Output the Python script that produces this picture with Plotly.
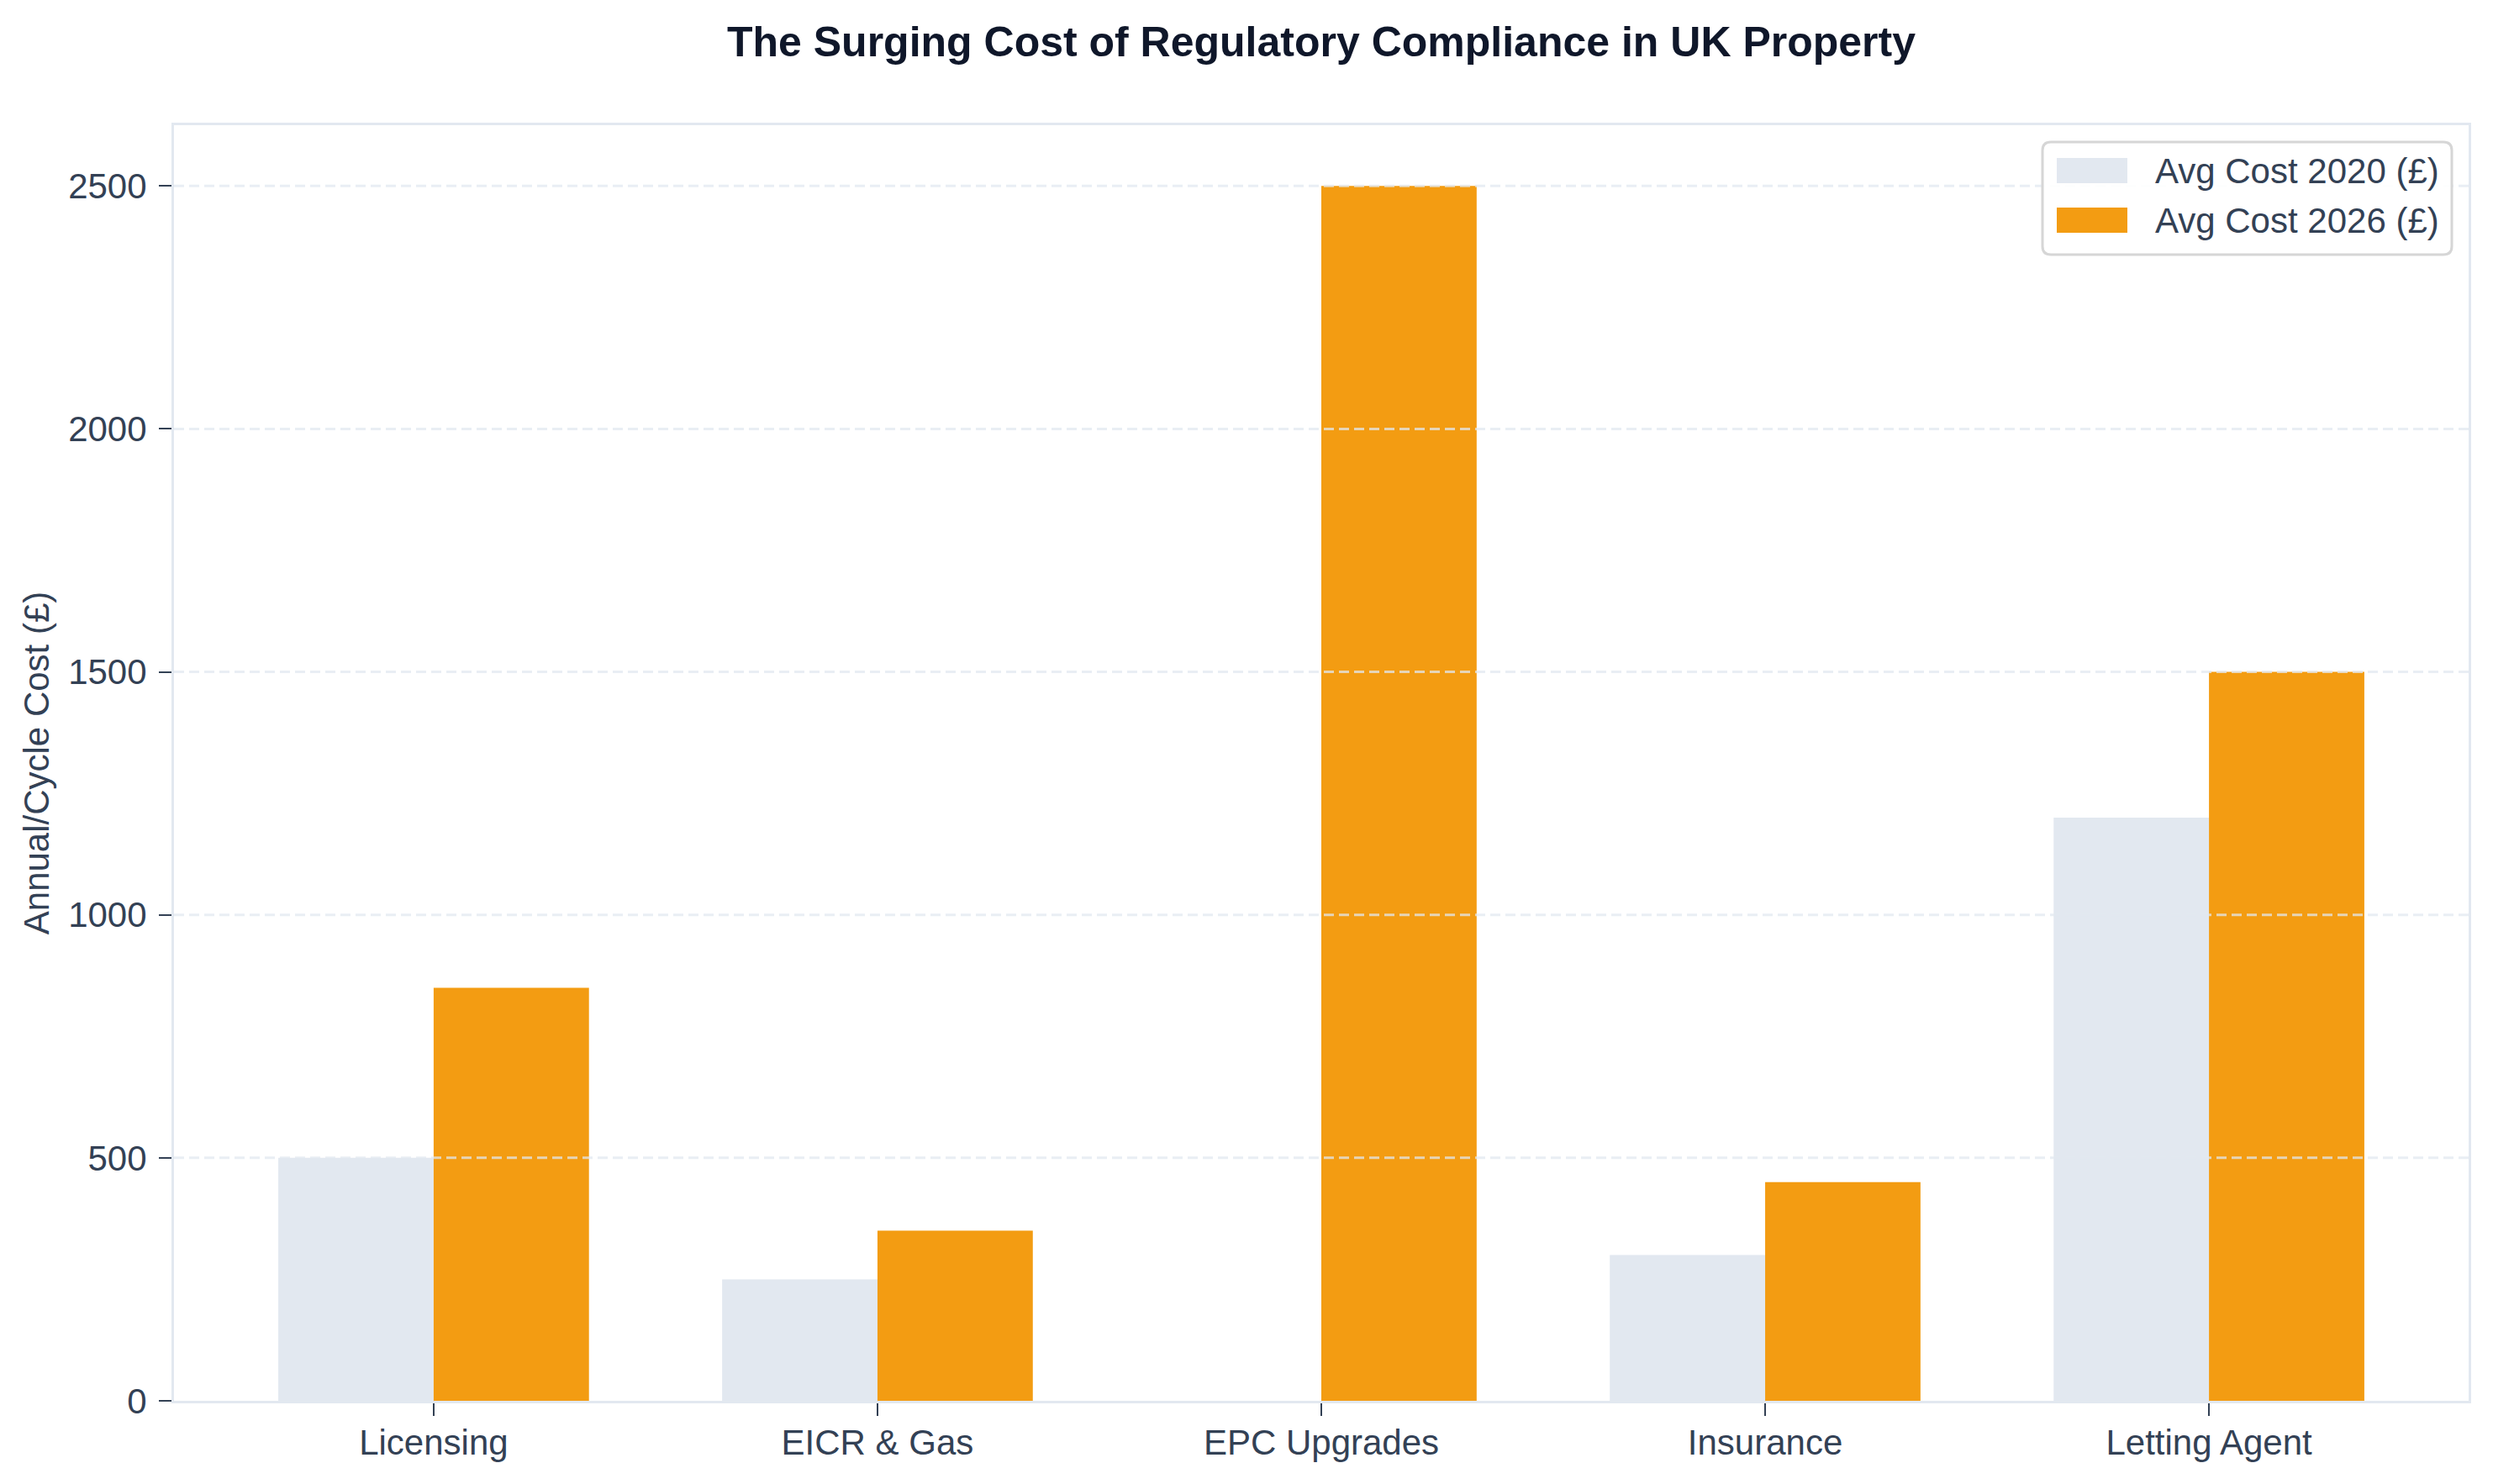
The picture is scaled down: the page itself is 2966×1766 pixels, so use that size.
import plotly.graph_objects as go

categories = ["Licensing", "EICR & Gas", "EPC Upgrades", "Insurance", "Letting Agent"]
cost_2020 = [500, 250, 0, 300, 1200]
cost_2026 = [850, 350, 2500, 450, 1500]
y_ticks = [0, 500, 1000, 1500, 2000, 2500]
series_names = ["Avg Cost 2020 (£)", "Avg Cost 2026 (£)"]
series_colors = ["#e2e8f0", "#f39c12"]

W, H = 2966, 1766
L, R, T, B = 207, 29, 149, 99
PW, PH = W - L - R, H - T - B
FONT = "Liberation Sans, Arial, sans-serif"
TXT = "#334155"


def px(x):
    return (x - L) / PW


def py(y):
    return 1 - (y - T) / PH


fig = go.Figure()
for vals, name, col in zip([cost_2020, cost_2026], series_names, series_colors):
    fig.add_trace(go.Bar(x=categories, y=vals, name=name, showlegend=False,
                         marker=dict(color=col, line=dict(width=0))))

# dashed gridlines drawn above bars (as in reference)
for v in y_ticks[1:]:
    fig.add_shape(type="line", xref="paper", yref="y", x0=0, x1=1, y0=v, y1=v,
                  line=dict(color="rgba(226,232,240,0.75)", width=3, dash="12px,6px"),
                  layer="above")

# legend box (rounded) built to mirror matplotlib legend
bx0, bx1, by0, by1, rad = 2430, 2917, 169, 303, 10
path = (f"M {px(bx0 + rad)},{py(by0)} L {px(bx1 - rad)},{py(by0)} "
        f"Q {px(bx1)},{py(by0)} {px(bx1)},{py(by0 + rad)} "
        f"L {px(bx1)},{py(by1 - rad)} Q {px(bx1)},{py(by1)} {px(bx1 - rad)},{py(by1)} "
        f"L {px(bx0 + rad)},{py(by1)} Q {px(bx0)},{py(by1)} {px(bx0)},{py(by1 - rad)} "
        f"L {px(bx0)},{py(by0 + rad)} Q {px(bx0)},{py(by0)} {px(bx0 + rad)},{py(by0)} Z")
fig.add_shape(type="path", xref="paper", yref="paper", path=path,
              fillcolor="rgba(255,255,255,0.9)", line=dict(color="#d6d6d6", width=3),
              layer="above")
row_centers = [203, 262]
for name, col, yc in zip(series_names, series_colors, row_centers):
    fig.add_shape(type="rect", xref="paper", yref="paper",
                  x0=px(2447), x1=px(2531), y0=py(yc - 15), y1=py(yc + 15),
                  fillcolor=col, line=dict(width=0), layer="above")
    fig.add_annotation(xref="paper", yref="paper", x=px(2562), y=py(yc),
                       xanchor="left", yanchor="middle", showarrow=False,
                       text=name, font=dict(family=FONT, size=42, color=TXT))

fig.update_layout(
    width=W, height=H,
    margin=dict(l=L, r=R, t=T, b=B, autoexpand=False),
    paper_bgcolor="white", plot_bgcolor="white",
    barmode="group", bargap=0.3, bargroupgap=0,
    showlegend=False,
    font=dict(family=FONT, size=42, color=TXT),
    title=dict(text="<b>The Surging Cost of Regulatory Compliance in UK Property</b>",
               x=0.5, xref="paper", xanchor="center",
               y=1 - 49 / H, yref="container", yanchor="middle",
               font=dict(family=FONT, size=50, color="#0f172a")),
    xaxis=dict(range=[-0.585, 4.585], showgrid=False, zeroline=False,
               showline=True, linecolor="#e2e8f0", linewidth=3, mirror=True,
               ticks="outside", ticklen=15, tickwidth=2, tickcolor=TXT,
               ticklabelstandoff=-4,
               tickfont=dict(family=FONT, size=42, color=TXT)),
    yaxis=dict(range=[0, 2625], tickvals=y_ticks, showgrid=False, zeroline=False,
               showline=True, linecolor="#e2e8f0", linewidth=3, mirror=True,
               ticks="outside", ticklen=15, tickwidth=2, tickcolor=TXT,
               ticklabelstandoff=6,
               tickfont=dict(family=FONT, size=42, color=TXT),
               title=dict(text="Annual/Cycle Cost (£)", standoff=10,
                          font=dict(family=FONT, size=42, color=TXT))),
)

fig.write_html("out.html")
